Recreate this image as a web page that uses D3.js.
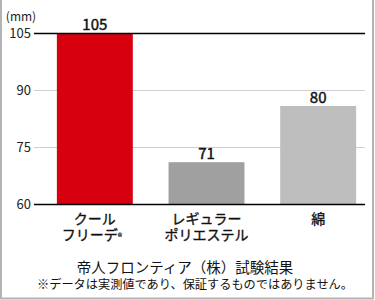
<!DOCTYPE html>
<html>
<head>
<meta charset="utf-8">
<script src="https://cdn.jsdelivr.net/npm/d3@7"></script>
<style>
  body { margin: 0; background: #fff; }
  svg { display: block; font-family: "Noto Sans CJK JP", "Noto Sans", sans-serif; }
</style>
</head>
<body>
<svg id="chart"></svg>
<script>
// categories (two lines each) and values
const categories = [["クール", "フリーデ"], ["レギュラー", "ポリエステル"], ["綿"]];
const valueLabels = ["105", "71", "80"];
// bar heights as drawn in the source picture (the 80 bar is drawn taller than its label)
const barValues = [105, 71, 85.8];
const barColors = ["#d7000f", "#a0a0a0", "#bebebe"];
const yTicks = [60, 75, 90, 105];
const unitLabel = "(mm)";
const sourceNote = "帝人フロンティア（株）試験結果";
const footNote = "※データは実測値であり、保証するものではありません。";

const width = 375, height = 300;
const svg = d3.select("#chart").attr("width", width).attr("height", height);

const y = d3.scaleLinear().domain([60, 105]).range([204, 33]);
const x = d3.scaleBand().domain(d3.range(categories.length))
  .range([39, 374]).paddingInner(0.32).paddingOuter(0.16);

// frame
svg.append("path")
  .attr("d", `M1,0 V${height - 1.5} H${width - 2} V0`)
  .attr("fill", "none").attr("stroke", "#b4b4b4").attr("stroke-width", 2);

// gridlines
svg.append("g").selectAll("line")
  .data(yTicks.filter(d => d !== 60 && d !== 105))
  .join("line")
    .attr("x1", 34).attr("x2", 365)
    .attr("y1", d => Math.round(y(d)) + 0.5).attr("y2", d => Math.round(y(d)) + 0.5)
    .attr("stroke", "#d0d0d0")
    .attr("stroke-width", 1);

// bars
svg.append("g").selectAll("rect")
  .data(barValues)
  .join("rect")
    .attr("x", (d, i) => x(i))
    .attr("width", x.bandwidth())
    .attr("y", d => y(d))
    .attr("height", d => y(60) - y(d))
    .attr("fill", (d, i) => barColors[i]);

// top/bottom axis lines over bars
svg.append("g").selectAll("line")
  .data([60, 105])
  .join("line")
    .attr("x1", 34).attr("x2", 365)
    .attr("y1", d => Math.round(y(d)) + 0.5).attr("y2", d => Math.round(y(d)) + 0.5)
    .attr("stroke", "#000").attr("stroke-width", 1.5);

// value labels
svg.append("g").selectAll("text")
  .data(barValues)
  .join("text")
    .attr("x", (d, i) => x(i) + x.bandwidth() / 2)
    .attr("y", d => y(d) - 3)
    .attr("text-anchor", "middle")
    .attr("font-size", 15)
    .attr("fill", "#111")
    .attr("stroke", "#111").attr("stroke-width", 0.45)
    .text((d, i) => valueLabels[i]);

// y tick labels
svg.append("g").selectAll("text")
  .data(yTicks)
  .join("text")
    .attr("x", 31)
    .attr("y", d => y(d))
    .attr("dy", "0.36em")
    .attr("text-anchor", "end")
    .attr("font-size", 13)
    .attr("fill", "#222")
    .text(d => d);

svg.append("text")
  .attr("x", 21).attr("y", 21)
  .attr("text-anchor", "middle")
  .attr("font-size", 12).attr("fill", "#222")
  .text(unitLabel);

// category labels, one text per line
categories.forEach((lines, i) => {
  const cx = x(i) + x.bandwidth() / 2;
  lines.forEach((line, j) => {
    const t = svg.append("text")
      .attr("x", cx + (i === 0 && j === 1 ? -3 : 0))
      .attr("y", 224 + j * 16)
      .attr("text-anchor", "middle")
      .attr("font-size", 14)
      .attr("fill", "#111")
      .attr("stroke", "#111").attr("stroke-width", 0.35)
      .text(line);
    if (i === 0 && j === 1) {
      t.append("tspan").attr("font-size", 9).attr("stroke-width", 0.2).text("®");
    }
  });
});

svg.append("text")
  .attr("x", 185).attr("y", 273)
  .attr("text-anchor", "middle")
  .attr("font-size", 14.5).attr("fill", "#111")
  .text(sourceNote);

svg.append("text")
  .attr("x", 195).attr("y", 289)
  .attr("text-anchor", "middle")
  .attr("font-size", 12.2).attr("fill", "#111")
  .text(footNote);
</script>
</body>
</html>
